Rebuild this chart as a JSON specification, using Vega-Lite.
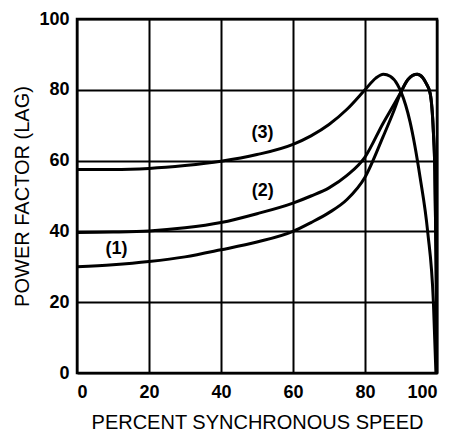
{
  "$schema": "https://vega.github.io/schema/vega-lite/v6.json",
  "autosize": {"type": "none"},
  "width": 360,
  "height": 354,
  "padding": {"left": 77, "top": 19, "right": 16, "bottom": 60},
  "background": "white",
  "config": {
    "view": {"stroke": "black", "strokeWidth": 2.5},
    "font": "Liberation Sans",
    "axis": {
      "grid": true,
      "gridColor": "black",
      "gridWidth": 2,
      "gridOpacity": 1,
      "domain": false,
      "ticks": false,
      "labelFont": "Liberation Sans",
      "labelFontSize": 18,
      "labelFontWeight": "bold",
      "labelColor": "black",
      "titleFont": "Liberation Sans",
      "titleFontSize": 20,
      "titleFontWeight": "normal",
      "titleColor": "black"
    }
  },
  "datasets": {
    "curves": [
      {"curve": "3", "x": 0, "y": 57.5},
      {"curve": "3", "x": 10, "y": 57.5},
      {"curve": "3", "x": 20, "y": 57.8},
      {"curve": "3", "x": 30, "y": 58.6},
      {"curve": "3", "x": 40, "y": 59.8},
      {"curve": "3", "x": 50, "y": 61.7},
      {"curve": "3", "x": 60, "y": 64.6},
      {"curve": "3", "x": 65, "y": 67},
      {"curve": "3", "x": 70, "y": 70.2},
      {"curve": "3", "x": 75, "y": 74.5},
      {"curve": "3", "x": 80, "y": 80},
      {"curve": "3", "x": 83, "y": 83.3},
      {"curve": "3", "x": 85.1, "y": 84.4},
      {"curve": "3", "x": 87, "y": 83.8},
      {"curve": "3", "x": 89, "y": 81.5},
      {"curve": "3", "x": 90, "y": 79.4},
      {"curve": "3", "x": 92.5, "y": 71},
      {"curve": "3", "x": 95.3, "y": 55.3},
      {"curve": "3", "x": 97.4, "y": 40},
      {"curve": "3", "x": 99, "y": 20},
      {"curve": "3", "x": 99.7, "y": 0},
      {"curve": "2", "x": 0, "y": 39.7},
      {"curve": "2", "x": 10, "y": 39.8},
      {"curve": "2", "x": 20, "y": 40.1},
      {"curve": "2", "x": 30, "y": 41},
      {"curve": "2", "x": 40, "y": 42.5},
      {"curve": "2", "x": 50, "y": 45},
      {"curve": "2", "x": 60, "y": 48},
      {"curve": "2", "x": 65, "y": 50},
      {"curve": "2", "x": 70, "y": 52.3},
      {"curve": "2", "x": 75, "y": 55.8},
      {"curve": "2", "x": 80, "y": 61},
      {"curve": "2", "x": 85, "y": 70.5},
      {"curve": "2", "x": 88, "y": 75.8},
      {"curve": "2", "x": 90, "y": 79.4},
      {"curve": "2", "x": 92, "y": 83},
      {"curve": "2", "x": 94.5, "y": 84.4},
      {"curve": "2", "x": 96, "y": 83.5},
      {"curve": "2", "x": 97, "y": 81.8},
      {"curve": "2", "x": 98.1, "y": 79},
      {"curve": "2", "x": 99, "y": 68},
      {"curve": "2", "x": 99.4, "y": 57},
      {"curve": "2", "x": 99.7, "y": 35},
      {"curve": "2", "x": 99.9, "y": 15},
      {"curve": "2", "x": 100, "y": 0},
      {"curve": "1", "x": 0, "y": 30},
      {"curve": "1", "x": 10, "y": 30.6},
      {"curve": "1", "x": 20, "y": 31.5},
      {"curve": "1", "x": 30, "y": 32.8},
      {"curve": "1", "x": 40, "y": 34.8},
      {"curve": "1", "x": 50, "y": 37},
      {"curve": "1", "x": 60, "y": 40},
      {"curve": "1", "x": 65, "y": 42.5},
      {"curve": "1", "x": 70, "y": 45.3},
      {"curve": "1", "x": 75, "y": 49},
      {"curve": "1", "x": 80, "y": 55.3},
      {"curve": "1", "x": 85, "y": 66.7},
      {"curve": "1", "x": 88, "y": 74},
      {"curve": "1", "x": 90, "y": 79.4},
      {"curve": "1", "x": 92, "y": 83},
      {"curve": "1", "x": 94.5, "y": 84.4},
      {"curve": "1", "x": 96, "y": 83.5},
      {"curve": "1", "x": 97, "y": 81.8},
      {"curve": "1", "x": 98.1, "y": 79},
      {"curve": "1", "x": 99, "y": 68},
      {"curve": "1", "x": 99.4, "y": 57},
      {"curve": "1", "x": 99.7, "y": 35},
      {"curve": "1", "x": 99.9, "y": 15},
      {"curve": "1", "x": 100, "y": 0}
    ],
    "labels": [
      {"label": "(1)", "x": 11, "y": 35},
      {"label": "(2)", "x": 51.6, "y": 51.5},
      {"label": "(3)", "x": 51.5, "y": 67.7}
    ]
  },
  "layer": [
    {
      "data": {"name": "curves"},
      "mark": {"type": "line", "interpolate": "monotone", "color": "black", "strokeWidth": 3, "clip": true},
      "encoding": {
        "x": {
          "field": "x", "type": "quantitative",
          "scale": {"domain": [0, 100], "nice": false},
          "axis": {"values": [0, 20, 40, 60, 80, 100], "title": "PERCENT SYNCHRONOUS SPEED", "labelPadding": 10, "titleBaseline": "alphabetic", "titleY": 55}
        },
        "y": {
          "field": "y", "type": "quantitative",
          "scale": {"domain": [0, 100], "nice": false},
          "axis": {"values": [0, 20, 40, 60, 80, 100], "title": "POWER FACTOR (LAG)", "labelPadding": 8, "titlePadding": 6}
        },
        "detail": {"field": "curve", "type": "nominal"}
      }
    },
    {
      "data": {"name": "labels"},
      "mark": {"type": "text", "font": "Liberation Sans", "fontSize": 18, "fontWeight": "bold", "color": "black", "align": "center", "baseline": "middle"},
      "encoding": {
        "x": {"field": "x", "type": "quantitative"},
        "y": {"field": "y", "type": "quantitative"},
        "text": {"field": "label", "type": "nominal"}
      }
    }
  ]
}
